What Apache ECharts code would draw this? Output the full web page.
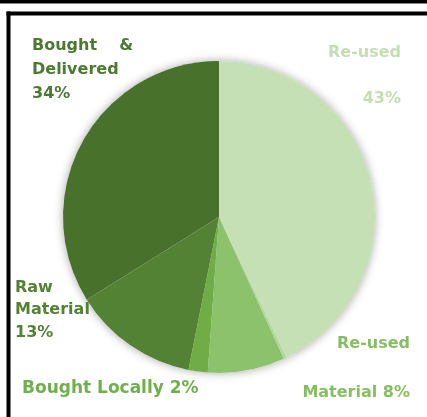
<!DOCTYPE html>
<html>
<head>
<meta charset="utf-8">
<script src="https://cdn.jsdelivr.net/npm/echarts@6/dist/echarts.min.js"></script>
<style>html,body{margin:0;padding:0;background:#fff;}#c{width:427px;height:417px;}</style>
</head>
<body>
<div id="c"></div>
<script>
// Data
var categories = ['Re-used', '', 'Re-used Material', 'Bought Locally', 'Raw Material', 'Bought & Delivered'];
var values = [43, 0.3, 8, 2, 13, 34];
var labelTexts = ['Re-used\n43%', '', 'Re-used\nMaterial 8%', 'Bought Locally 2%', 'Raw\nMaterial\n13%', 'Bought    &\nDelivered\n34%'];

// Styles / layout
var sliceColors = ['#c5e0b4', '#b2d69d', '#8cc26b', '#70ad47', '#548235', '#48722c'];
var labelColors = ['#c3dfb1', '#b2d69d', '#86bf62', '#70b04c', '#548235', '#4b7a31'];
var labelPos = [
  {x: 401, y: 76, align: 'right', lh: 46, fs: 16},
  null,
  {x: 410, y: 368, align: 'right', lh: 49, fs: 16},
  {x: 22, y: 389, align: 'left', lh: 22, fs: 17},
  {x: 15, y: 310, align: 'left', lh: 22.5, fs: 16},
  {x: 32, y: 69.5, align: 'left', lh: 24, fs: 16}
];

var chart = echarts.init(document.getElementById('c'));
var data = categories.map(function (n, i) {
  var p = labelPos[i];
  return {
    name: n,
    value: values[i],
    itemStyle: {color: sliceColors[i]},
    label: p ? {
      show: true,
      formatter: labelTexts[i],
      color: labelColors[i],
      fontSize: p.fs,
      lineHeight: p.lh,
      align: p.align
    } : {show: false}
  };
});

chart.setOption({
  animation: false,
  backgroundColor: '#fff',
  graphic: [
    {type: 'rect', shape: {x: 0, y: 0, width: 427, height: 3.5}, style: {fill: '#000'}},
    {type: 'rect', shape: {x: 6.5, y: 11.5, width: 421, height: 4}, style: {fill: '#000'}},
    {type: 'rect', shape: {x: 6.5, y: 11.5, width: 4, height: 406}, style: {fill: '#000'}}
  ],
  series: [
    {
      type: 'pie',
      silent: true,
      center: [219, 217],
      radius: 156,
      label: {show: false},
      labelLine: {show: false},
      data: [{value: 1, itemStyle: {color: '#fff', shadowBlur: 10, shadowColor: 'rgba(0,0,0,0.35)'}}],
      z: 1
    },
    {
      type: 'pie',
      center: [219, 217],
      radius: 156,
      startAngle: 90,
      clockwise: true,
      z: 2,
      avoidLabelOverlap: false,
      itemStyle: {borderWidth: 0},
      label: {
        position: 'inside',
        overflow: 'none',
        fontFamily: 'DejaVu Sans',
        fontWeight: 'bold'
      },
      labelLine: {show: false},
      labelLayout: function (params) {
        var p = labelPos[params.dataIndex];
        if (!p) return {};
        return {x: p.x, y: p.y, align: p.align, verticalAlign: 'middle', hideOverlap: false, moveOverlap: null};
      },
      data: data
    }
  ]
});
</script>
</body>
</html>
